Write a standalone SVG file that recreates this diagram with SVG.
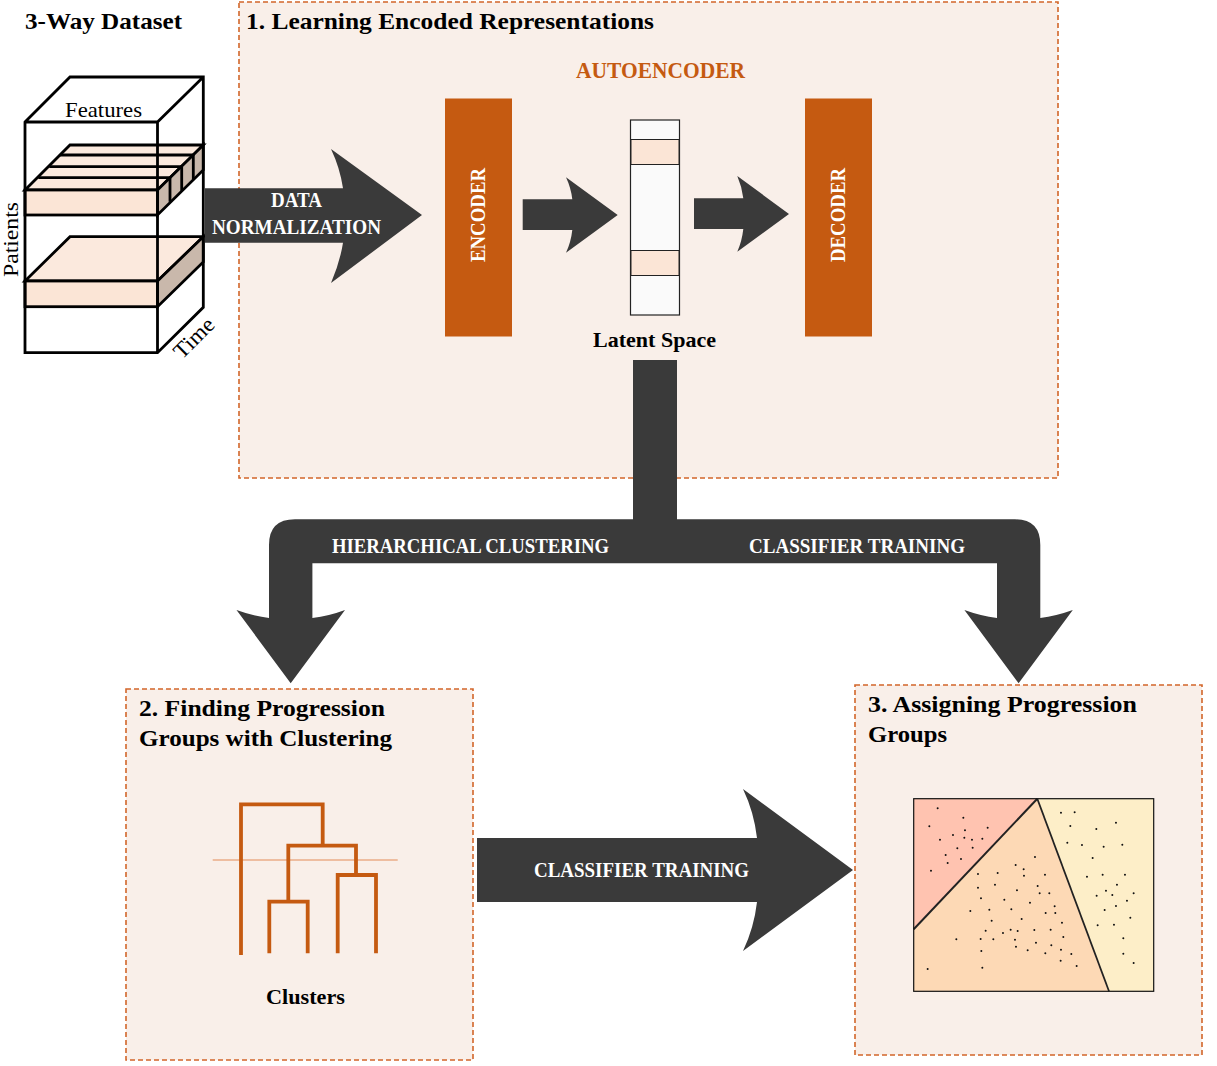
<svg xmlns="http://www.w3.org/2000/svg" width="1217" height="1066" viewBox="0 0 1217 1066">
<style>
text{font-family:"Liberation Serif","DejaVu Serif",serif;font-size:23px;fill:#000}
.b{font-weight:700}
.w{font-weight:700;fill:#fff;font-size:22px}
.panel{fill:#f9efe9;stroke:#d2662a;stroke-width:1.6;stroke-dasharray:5 3}
.arrow{fill:#3a3a3a}
.block{fill:#c55a11}
.cube{fill:none;stroke:#000;stroke-width:2.8;stroke-linejoin:miter}
.front{fill:#fbe5d6;stroke:#000;stroke-width:2.8}
.top{fill:#fbe9dd;stroke:#000;stroke-width:2.8}
.side{fill:#c9b8ab;stroke:#000;stroke-width:2.8}
.band{fill:#fbe5d6;stroke:#222;stroke-width:1}
.den{fill:none;stroke:#c55a11;stroke-width:3.800}
</style>
<rect width="1217" height="1066" fill="#fff"/>

<g id="panel-1"><rect class="panel" x="239" y="2" width="819" height="476"/>
<text class="b" x="246" y="29" textLength="408" lengthAdjust="spacingAndGlyphs">1. Learning Encoded Representations</text>
<text class="b" x="576" y="78" textLength="169" lengthAdjust="spacingAndGlyphs" style="fill:#c55a11">AUTOENCODER</text></g>
<g id="panel-2"><rect class="panel" x="126" y="689" width="347" height="371"/>
<text class="b" x="139" y="716" textLength="246" lengthAdjust="spacingAndGlyphs">2. Finding Progression</text>
<text class="b" x="139" y="746" textLength="253" lengthAdjust="spacingAndGlyphs">Groups with Clustering</text></g>
<g id="panel-3"><rect class="panel" x="855" y="685" width="347" height="370"/>
<text class="b" x="868" y="712" textLength="269" lengthAdjust="spacingAndGlyphs">3. Assigning Progression</text>
<text class="b" x="868" y="742" textLength="79" lengthAdjust="spacingAndGlyphs">Groups</text></g>

<g id="dataset">
<text class="b" x="25" y="29" textLength="157" lengthAdjust="spacingAndGlyphs">3-Way Dataset</text>
<path d="M25 122L70 77H203.300V307.300L157.500 352.700H25Z" fill="#fff"/>
<path class="top" d="M25 190L70 145H203.300L157.500 190Z"/>
<path class="side" d="M157.500 190L203.300 145V170L157.500 215Z"/>
<rect class="front" x="25" y="190" width="132.500" height="25"/>
<path class="cube" d="M60 155H193.300M49.300 166.700H182.700M38.300 177.700H170M170 177.700V201.700M181.700 166.700V190.700M193.300 155V179"/>
<path class="top" d="M25 281L70 236.700H203.300L157.500 281Z"/>
<path class="side" d="M157.500 281L203.300 236.700V262L157.500 306.700Z"/>
<rect class="front" x="25" y="281" width="132.500" height="25.700"/>
<path class="cube" d="M25 122L70 77H203.300V307.300L157.500 352.700H25ZM25 122H157.500V352.700M157.500 122L203.300 77"/>
<text x="65" y="117" textLength="77" lengthAdjust="spacingAndGlyphs" style="font-size:22px">Features</text>
<text transform="translate(18 277) rotate(-90)" textLength="75" lengthAdjust="spacingAndGlyphs" style="font-size:20px">Patients</text>
<text transform="translate(182 360) rotate(-45)" textLength="48" lengthAdjust="spacingAndGlyphs" style="font-size:22px">Time</text>
</g>

<g id="connectors">
<path class="arrow" d="M205 188.300H343Q340 168 331 149L422 215L331 283Q340 262 343 242.700H205Z"/>
<path class="arrow" d="M522.700 199.300H572.300Q571 188 566 177.300L617.700 215L566 252.700Q571 242 572.300 230H522.700Z"/>
<path class="arrow" d="M694 198.300H743.300Q742 187 737.300 176L789 214L737.300 251.700Q742 241 743.300 229H694Z"/>
<path class="arrow" d="M633 360H677V519.300H1015Q1040.300 519.300 1040.300 545V618Q1056 616 1072.800 610L1018.600 683.300L964.400 610Q981 616 997 618V563.300H312.400V618Q329 616 345 610L290.700 683.300L236.500 610Q253 616 269 618V545Q269 519.300 295 519.300H633Z"/>
<path class="arrow" d="M477 838H757Q754 812 743 789L853 870L743 951Q754 928 757 902H477Z"/>
<text class="w" x="271" y="207" textLength="51" lengthAdjust="spacingAndGlyphs">DATA</text>
<text class="w" x="212" y="234" textLength="169" lengthAdjust="spacingAndGlyphs">NORMALIZATION</text>
<text class="w" x="332" y="553" textLength="277" lengthAdjust="spacingAndGlyphs">HIERARCHICAL CLUSTERING</text>
<text class="w" x="749" y="553" textLength="216" lengthAdjust="spacingAndGlyphs">CLASSIFIER TRAINING</text>
<text class="w" x="534" y="877" textLength="215" lengthAdjust="spacingAndGlyphs">CLASSIFIER TRAINING</text>
</g>

<g id="encoder"><rect class="block" x="445" y="98.500" width="67" height="238"/>
<text class="w" transform="translate(485 262) rotate(-90)" textLength="94" lengthAdjust="spacingAndGlyphs">ENCODER</text></g>
<g id="decoder"><rect class="block" x="805" y="98.500" width="67" height="238"/>
<text class="w" transform="translate(845 262) rotate(-90)" textLength="94" lengthAdjust="spacingAndGlyphs">DECODER</text></g>
<g id="latent">
<rect x="630.500" y="120" width="49" height="195" fill="#fafafa" stroke="#222" stroke-width="1.200"/>
<rect class="band" x="631" y="139.500" width="48" height="25"/>
<rect class="band" x="631" y="250.500" width="48" height="25"/>
<text class="b" x="593" y="347" textLength="123" lengthAdjust="spacingAndGlyphs" style="font-size:21px">Latent Space</text>
</g>

<g id="dendrogram">
<path d="M212.700 860H397.700" stroke="#eebda0" stroke-width="2" fill="none"/>
<path class="den" d="M241 955V804.300H322.700V845.700M288.300 901.700V845.700H356V875M269.300 953.300V901.700H307.700V953.300M337.700 953.300V875H376V953.300"/>
<text class="b" x="266" y="1004" textLength="79" lengthAdjust="spacingAndGlyphs" style="font-size:21px">Clusters</text>
</g>

<g id="scatter">
<rect x="913.700" y="798.700" width="240" height="192.600" fill="#fdeec8"/>
<path d="M913.700 798.700H1037.300L913.700 929.300Z" fill="#ffc3b0"/>
<path d="M913.700 929.300L1037.300 798.700L1109 991.300H913.700Z" fill="#fdd9b5"/>
<path d="M913.700 929.300L1037.300 798.700" fill="none" stroke="#222" stroke-width="2"/>
<path d="M1037.300 798.700L1109 991.300" fill="none" stroke="#222" stroke-width="1.800"/>
<rect x="913.700" y="798.700" width="240" height="192.600" fill="none" stroke="#111" stroke-width="1.200"/>
<path transform="translate(900 785) scale(.3333)" fill="none" stroke="#111" stroke-width="6" stroke-linecap="round" d="M113 70h0M190 98h0M88 124h0M263 128h0M195 136h0M159 150h0M193 158h0M120 164h0M216 164h0M247 161h0M172 190h0M218 188h0M137 210h0M183 222h0M143 234h0M93 257h0M405 216h0M347 240h0M371 253h0M234 267h0M293 264h0M372 272h0M435 269h0M285 299h0M234 308h0M413 303h0M351 316h0M419 325h0M448 325h0M243 340h0M313 344h0M390 353h0M464 364h0M268 374h0M334 373h0M211 378h0M437 384h0M466 384h0M365 402h0M275 407h0M486 413h0M257 437h0M309 444h0M332 434h0M353 438h0M403 435h0M452 434h0M169 463h0M242 462h0M280 463h0M345 464h0M490 456h0M408 473h0M454 481h0M348 485h0M383 496h0M483 494h0M244 498h0M436 505h0M514 507h0M482 527h0M530 543h0M83 552h0M247 548h0M483 83h0M524 82h0M648 113h0M511 123h0M589 132h0M502 173h0M546 180h0M611 185h0M667 179h0M578 219h0M561 275h0M608 269h0M675 269h0M651 299h0M618 317h0M637 330h0M701 325h0M590 332h0M681 347h0M648 363h0M614 375h0M691 398h0M593 421h0M642 419h0M670 460h0M670 506h0M701 534h0"/>
</g>
</svg>
